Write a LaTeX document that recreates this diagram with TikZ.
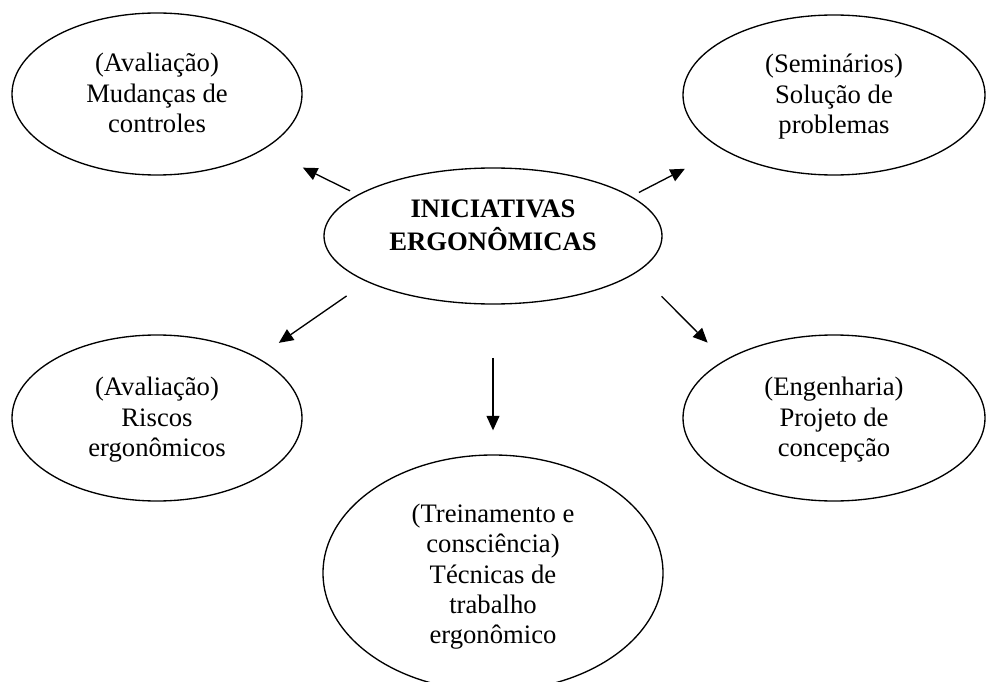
\documentclass[tikz,border=0pt]{standalone}
\usepackage{fontspec}
\setmainfont{Liberation Serif}
\usetikzlibrary{arrows.meta}
\usetikzlibrary{shapes.geometric}

% Text im Ellipsenfeld, um #1 nach unten versetzt
\newcommand{\Texto}[2]{\raisebox{-#1}[0pt][0pt]{\begin{tabular}{@{}c@{}}#2\end{tabular}}}

\tikzset{
  Elipse/.style={draw,ellipse,line width=.6pt,inner sep=0pt,
    font=\fontsize{12pt}{13.6pt}\selectfont}, % für Ellipsen
  Seta/.style={line width=.6pt,-{Triangle[length=6.5pt,width=5.8pt]}} % für Pfeile
}

\begin{document}
\begin{tikzpicture}[x=.45pt,y=-.45pt]
\clip (0,0) rectangle (986,682);

%Ellipsen
\node[Elipse,minimum width=152.1pt,minimum height=61.2pt] (Ini) at (493,236)
  {\Texto{-0.6pt}{\textbf{INICIATIVAS}\hspace{9pt}\\\textbf{ERGONÔMICAS}}};
\node[Elipse,minimum width=130.5pt,minimum height=72.9pt] (Aval1) at (157,94)
  {\Texto{3.9pt}{(Avaliação)\\Mudanças de\\controles}};
\node[Elipse,minimum width=135.9pt,minimum height=72pt] (Sem) at (834,95)
  {\Texto{3.9pt}{(Seminários)\\Solução de\\problemas}};
\node[Elipse,minimum width=130.5pt,minimum height=74.7pt] (Aval2) at (157,418)
  {\Texto{3.9pt}{(Avaliação)\\Riscos\\ergonômicos}};
\node[Elipse,minimum width=135.9pt,minimum height=74.7pt] (Eng) at (834,418)
  {\Texto{3.9pt}{(Engenharia)\\Projeto de\\concepção}};
\node[Elipse,minimum width=153pt,minimum height=106.2pt] (Trein) at (493,573)
  {\Texto{4.8pt}{(Treinamento e\\consciência)\\Técnicas de\\trabalho\\ergonômico}};

%Pfeile
\draw[Seta,shorten <=3.8pt,shorten >=19.1pt] (Ini.163.6) -- (Aval1.-27);
\draw[Seta,shorten <=3.8pt,shorten >=18.9pt] (Ini.16.4) -- (Sem.-154);
\draw[Seta,shorten <=11.1pt,shorten >=11.6pt] (Ini.200.7) -- (Aval2.31.8);
\draw[Seta,shorten <=15.4pt,shorten >=11pt] (Ini.-14) -- (Eng.152);
\draw[Seta,shorten <=23.9pt,shorten >=10.8pt] (Ini.south) -- (Trein.north);

\end{tikzpicture}
\end{document}
